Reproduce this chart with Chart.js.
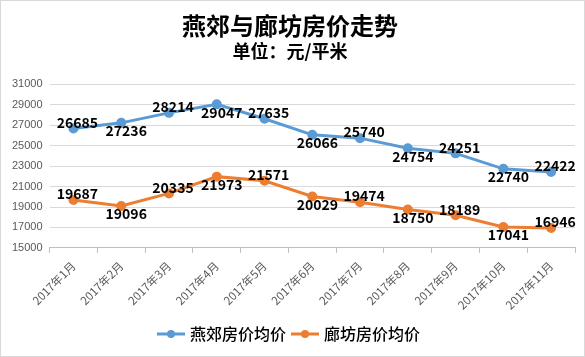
<!DOCTYPE html>
<html><head><meta charset="utf-8">
<script src="https://cdn.jsdelivr.net/npm/chart.js@4/dist/chart.umd.min.js"></script>
<style>
html,body{margin:0;padding:0;background:#fff;}
#wrap{width:583px;height:355px;border:1px solid #d9d9d9;}
</style></head><body>
<div id="wrap"><canvas id="c" width="583" height="355"></canvas></div>
<script>
const categories = ["2017年1月","2017年2月","2017年3月","2017年4月","2017年5月","2017年6月","2017年7月","2017年8月","2017年9月","2017年10月","2017年11月"];
const yanjiao = [26685,27236,28214,29047,27635,26066,25740,24754,24251,22740,22422];
const langfang = [19687,19096,20335,21973,21571,20029,19474,18750,18189,17041,16946];
const seriesNames = ["燕郊房价均价","廊坊房价均价"];
const yTicks = {min:15000, max:31000, step:2000};

const CJK = '"Noto Sans CJK SC", "Microsoft YaHei", sans-serif';
const BLUE = '#5B9BD5', ORANGE = '#ED7D31';

function legendIcon(color){
  const c = document.createElement('canvas');
  c.width = 28; c.height = 10;
  const g = c.getContext('2d');
  g.strokeStyle = color; g.lineWidth = 3;
  g.beginPath(); g.moveTo(0,5); g.lineTo(28,5); g.stroke();
  g.fillStyle = color; g.beginPath(); g.arc(14,5,4,0,Math.PI*2); g.fill();
  return c;
}

const labelPlugin = {
  id:'dataLabels',
  afterDatasetsDraw(chart){
    const ctx = chart.ctx;
    ctx.save();
    ctx.font = 'bold 14px ' + CJK;
    ctx.fillStyle = '#000';
    ctx.textAlign = 'center';
    chart.data.datasets.forEach((ds, di) => {
      const meta = chart.getDatasetMeta(di);
      meta.data.forEach((pt, i) => {
        const v = ds.data[i];
        if (i % 2 === 0) {
          ctx.textBaseline = 'bottom';
          ctx.fillText(String(v), pt.x + 4, pt.y + 1);
        } else {
          ctx.textBaseline = 'top';
          ctx.fillText(String(v), pt.x + 5, pt.y + 1);
        }
      });
    });
    ctx.restore();
  }
};

new Chart(document.getElementById('c'), {
  type:'line',
  data:{
    labels: categories,
    datasets:[
      {label:seriesNames[0], data:yanjiao, borderColor:BLUE, backgroundColor:BLUE, borderWidth:3, pointRadius:3.5, pointBackgroundColor:BLUE, pointBorderColor:BLUE, tension:0},
      {label:seriesNames[1], data:langfang, borderColor:ORANGE, backgroundColor:ORANGE, borderWidth:3, pointRadius:3.5, pointBackgroundColor:ORANGE, pointBorderColor:ORANGE, tension:0}
    ]
  },
  options:{
    responsive:false,
    animation:false,
    layout:{padding:{left:4,right:9,top:0,bottom:4}},
    plugins:{
      title:{display:true, text:'燕郊与廊坊房价走势', color:'#000', font:{family:CJK, size:24, weight:'bold'}, padding:{top:10,bottom:0}},
      subtitle:{display:true, text:'单位：元/平米', color:'#000', font:{family:CJK, size:18, weight:'bold'}, padding:{top:1,bottom:22}},
      legend:{
        position:'bottom',
        labels:{
          usePointStyle:true,
          pointStyleWidth:22,
          color:'#000',
          font:{family:CJK, size:16, weight:'500'},
          padding:8,
          generateLabels(chart){
            return chart.data.datasets.map((ds,i)=>({
              text: ds.label,
              pointStyle: legendIcon(ds.borderColor),
              fillStyle: ds.borderColor,
              strokeStyle: ds.borderColor,
              lineWidth:0,
              hidden:false,
              datasetIndex:i,
              fontColor:'#000'
            }));
          }
        }
      },
      tooltip:{enabled:false}
    },
    scales:{
      x:{
        offset:true,
        grid:{display:true, drawOnChartArea:false, drawTicks:true, tickLength:5, offset:true, color:'#bfbfbf'},
        border:{display:true, color:'#bfbfbf'},
        ticks:{color:'#595959', font:{family:CJK, size:11.5}, maxRotation:45, minRotation:45, padding:6}
      },
      y:{
        min:yTicks.min, max:yTicks.max,
        grid:{color:'#d9d9d9', drawTicks:false},
        border:{display:false},
        ticks:{stepSize:yTicks.step, color:'#595959', font:{family:'"Liberation Sans", sans-serif', size:11}, padding:7,
          callback:(v)=>String(v)}
      }
    }
  },
  plugins:[labelPlugin]
});
</script>
</body></html>
